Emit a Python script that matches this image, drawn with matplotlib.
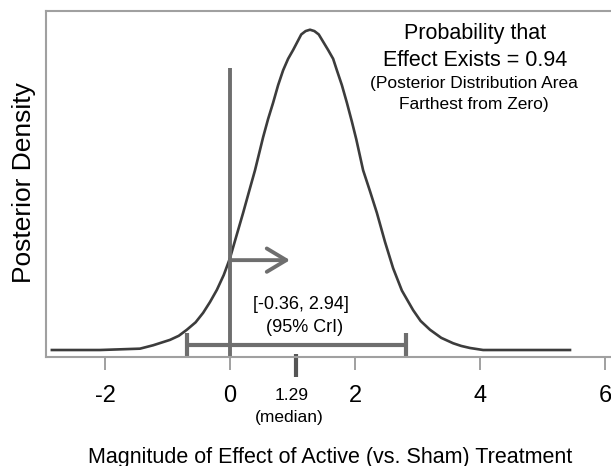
import matplotlib.pyplot as plt

plt.rcParams['font.family'] = ['Liberation Sans', 'DejaVu Sans']
plt.rcParams['axes.unicode_minus'] = False

# Curva da densidade posterior.
efeito = [-2.85, -2.08, -1.44, -1.23, -0.96, -0.82, -0.69, -0.55, -0.43, -0.32,
          -0.21, -0.10, 0.00, 0.10, 0.21, 0.30, 0.40, 0.53, 0.61, 0.69,
          0.77, 0.85, 0.93, 1.01, 1.14, 1.21, 1.28, 1.35, 1.42, 1.57,
          1.65, 1.71, 1.79, 1.87, 1.95, 2.02, 2.13, 2.24, 2.35, 2.48,
          2.61, 2.75, 2.93, 3.05, 3.20, 3.38, 3.57, 3.70, 3.84, 4.05,
          4.64, 5.44]
densidade = [0.000, 0.000, 0.002, 0.007, 0.015, 0.021, 0.030, 0.041, 0.055, 0.071,
             0.089, 0.111, 0.136, 0.168, 0.203, 0.233, 0.266, 0.315, 0.342, 0.366,
             0.392, 0.414, 0.431, 0.444, 0.467, 0.472, 0.474, 0.472, 0.467, 0.444,
             0.431, 0.414, 0.392, 0.366, 0.338, 0.312, 0.266, 0.235, 0.203, 0.160,
             0.121, 0.088, 0.059, 0.043, 0.030, 0.018, 0.010, 0.006, 0.003, 0.000,
             0.000, 0.000]

# Marcas desenhadas: intervalo de credibilidade, mediana, seta a partir do zero.
intervalo = [-0.69, 2.81]
mediana = 1.05
seta_fim = 0.96
xticks = [-2, 0, 2, 4, 6]

cinza_eixo = '#a0a0a0'
cinza_marca = '#6e6e6e'

fig = plt.figure(figsize=(6.11, 4.66), dpi=100)
ax = fig.add_axes([46 / 611, (466 - 356.7) / 466, 1 - 46 / 611, (356.7 - 11) / 466])

ax.plot(efeito, densidade, color='#3c3c3c', lw=1.9, solid_joinstyle='round')

# Linha vertical no zero e seta.
ax.vlines(0, -0.01, 0.417, color=cinza_marca, lw=2.8)
ax.annotate('', xy=(seta_fim, 0.133), xytext=(0, 0.133),
            arrowprops=dict(arrowstyle='->,head_length=0.7,head_width=0.42',
                            mutation_scale=20, lw=2.8, color=cinza_marca,
                            shrinkA=0, shrinkB=0))

# Intervalo de credibilidade de 95%.
ax.hlines(0.0074, intervalo[0], intervalo[1], color=cinza_marca, lw=3)
ax.vlines(intervalo, -0.011, 0.025, color=cinza_marca, lw=3)

# Marca da mediana abaixo do eixo.
ax.plot([mediana, mediana], [-0.006, -0.040], color='#555555', lw=3,
        clip_on=False, solid_capstyle='butt')
ax.text(mediana - 0.07, -0.0666, '1.29', ha='center', va='center', fontsize=12.5)
ax.text(mediana - 0.1, -0.1006, '(median)', ha='center', va='center', fontsize=12.5)

# Textos.
ax.text(3.92, 0.469, 'Probability that', ha='center', va='center', fontsize=15.5)
ax.text(3.92, 0.429, 'Effect Exists = 0.94', ha='center', va='center', fontsize=15.5)
ax.text(3.9, 0.394, '(Posterior Distribution Area', ha='center', va='center',
        fontsize=12.5)
ax.text(3.9, 0.363, 'Farthest from Zero)', ha='center', va='center', fontsize=12.5)
ax.text(1.136, 0.068, '[-0.36, 2.94]', ha='center', va='center', fontsize=13)
ax.text(1.2, 0.0326, '(95% CrI)', ha='center', va='center', fontsize=13)

ax.set_xlim(-2.944, 6.096)
ax.set_ylim(-0.0099, 0.5017)
ax.set_xticks(xticks)
ax.set_xticklabels([str(t) for t in xticks])
ax.set_yticks([])
ax.tick_params(axis='x', length=9.5, width=1.4, color=cinza_eixo, pad=11,
               labelsize=17)

for lado in ['left', 'top', 'bottom']:
    ax.spines[lado].set_color(cinza_eixo)
    ax.spines[lado].set_linewidth(1.5)
ax.spines['right'].set_visible(False)

fig.text(330 / 611, 1 - 457 / 466, 'Magnitude of Effect of Active (vs. Sham) Treatment',
         ha='center', va='center', fontsize=15.5)
fig.text(24 / 611, 1 - 183 / 466, 'Posterior Density', ha='center', va='center',
         rotation=90, fontsize=19)

plt.savefig('out.png')
